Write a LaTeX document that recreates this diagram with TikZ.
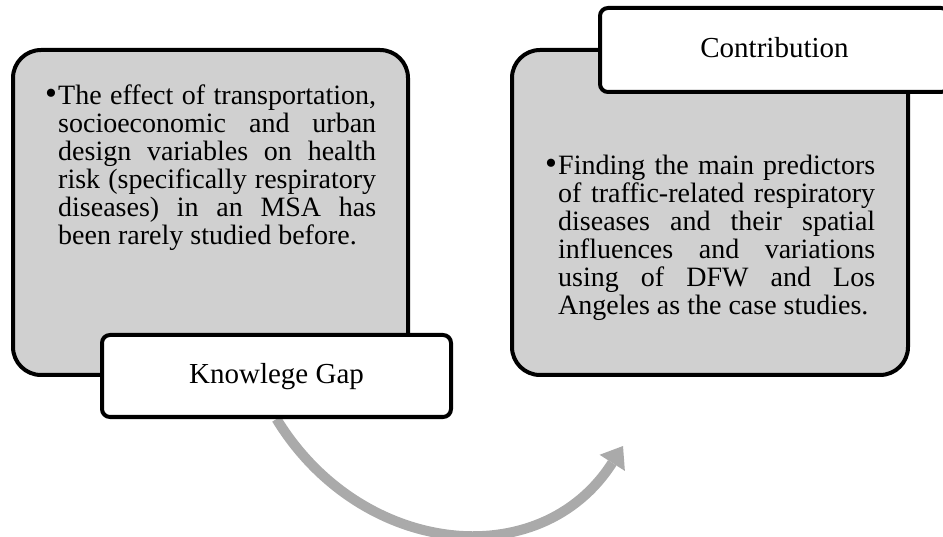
\documentclass[tikz,border=0pt]{standalone}
\usepackage{fontspec}
\setmainfont{Liberation Serif}
\usetikzlibrary{arrows.meta,backgrounds}
\definecolor{boxgray}{RGB}{208,208,208}
\definecolor{arrowgray}{RGB}{170,170,170}
\tikzset{
  graybox/.style={draw=black, line width=4pt, fill=boxgray, rounded corners=28pt, inner sep=0pt},
  labelbox/.style={draw=black, line width=4pt, fill=white, rounded corners=8pt, inner sep=0pt,
    font=\fontsize{29}{29}\selectfont, text height=19pt, text depth=3pt},
  bodytext/.style={inner sep=0pt, align=justify, anchor=base west,
    font=\fontsize{28}{28}\selectfont},
  bulletmark/.style={inner sep=0pt, anchor=center, font=\fontsize{34}{34}\selectfont},
  flowarrow/.style={draw=arrowgray, line width=10pt,
    -{Triangle[length=20pt,width=30pt,line width=0pt]}}
}
\begin{document}
\begin{tikzpicture}[x=1pt,y=-1pt]
\useasboundingbox (0,0) rectangle (943,537);
\clip (0,0) rectangle (943,537);
% gray content boxes
\node[graybox, minimum width=395pt, minimum height=325pt] (gapbox) at (210.5,212.5) {};
\node[graybox, minimum width=396pt, minimum height=325pt] (contbox) at (710,212.5) {};
% body texts
\node[bulletmark] (gapbullet) at (51,97) {•};
\node[bodytext, text width=318pt] (gaptext) at (58,105) {\tolerance=10000\hyphenpenalty=10000
The effect of transportation,\linebreak
socioeconomic and urban\linebreak
design variables on health\linebreak
risk (specifically respiratory\linebreak
diseases) in an MSA has\linebreak
been rarely studied before.};
\node[bulletmark] (contbullet) at (551,167) {•};
\node[bodytext, text width=317pt] (conttext) at (558,175) {\tolerance=10000\hyphenpenalty=10000
Finding the main predictors\linebreak
of traffic-related respiratory\linebreak
diseases and their spatial\linebreak
influences and variations\linebreak
using of DFW and Los\linebreak
Angeles as the case studies.};
% label boxes
\node[labelbox, minimum width=349pt, minimum height=82pt] (gaplabel) at (276.5,376) {Knowlege Gap};
\node[labelbox, minimum width=349pt, minimum height=84pt] (contlabel) at (774.5,50) {Contribution};
% arrow
\coordinate (tipend) at (623,446);
\begin{scope}[on background layer]
\draw[flowarrow] (gaplabel.south) .. controls (360,556) and (540,576) .. (tipend);
\end{scope}
\end{tikzpicture}
\end{document}
